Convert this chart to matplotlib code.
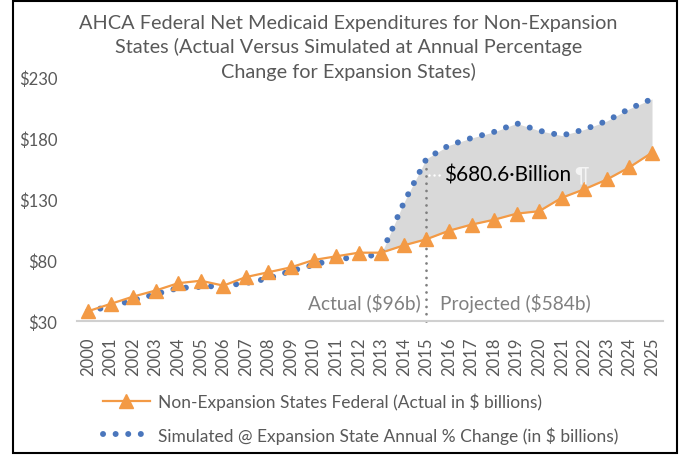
import matplotlib
matplotlib.use("Agg")
import matplotlib.pyplot as plt
from matplotlib.lines import Line2D
from matplotlib.patches import Rectangle
import numpy as np

plt.rcParams['font.family'] = ['Lato', 'DejaVu Sans']

years = list(range(2000, 2026))
actual = [38, 44, 50, 55, 61, 63, 59, 66, 70, 74, 80, 83, 86, 86, 92, 97,
          104, 109, 113, 118, 120, 131, 138, 146, 156, 168]
simulated = [38, 42, 47, 52, 57, 58, 59, 61, 65, 71, 76, 81, 82, 85, 127, 163,
             174, 180, 185, 192, 186, 182, 187, 194, 204, 212]
fill_start = 2013
marker_year = 2015
y_ticks = [30, 80, 130, 180, 230]
y_labels = ['$30', '$80', '$130', '$180', '$230']
title = ("AHCA Federal Net Medicaid Expenditures for Non-Expansion\n"
         "States (Actual Versus Simulated at Annual Percentage\n"
         "Change for Expansion States)")
label_actual = "Non-Expansion States Federal (Actual in $ billions)"
label_sim = "Simulated @ Expansion State Annual % Change (in $ billions)"
total_text = "$680.6\u00b7Billion"
left_text = "Actual ($96b)"
right_text = "Projected ($584b)"

ORANGE = '#F39A45'
BLUE = '#4A76BC'
GRAY_TXT = '#595959'
DOT = (0.01, 2.1)

W, H = 679, 456
fig = plt.figure(figsize=(W / 100, H / 100), dpi=100)
ax = fig.add_axes([76.7 / W, 1 - 322 / H, (663.3 - 76.7) / W, (322 - 78) / H])

x = np.array(years)
a = np.array(actual, dtype=float)
s = np.array(simulated, dtype=float)
m = x >= fill_start
ax.fill_between(x[m], a[m], s[m], color='#d9d9d9', lw=0, zorder=1)

# vertical divider at 2015
i15 = years.index(marker_year)
ax.plot([marker_year, marker_year], [30, s[i15]], color='#7f7f7f', lw=2.0,
        dashes=(0.01, 2.6), dash_capstyle='round', zorder=2, clip_on=False)

ax.plot(x, s, color=BLUE, lw=4.3, dashes=DOT, dash_capstyle='round', zorder=3)
ax.plot(x, a, color=ORANGE, lw=1.6, marker='^', markersize=9.5, zorder=4)

ax.set_xlim(1999.5, 2025.5)
ax.set_ylim(30, 230)
ax.set_yticks(y_ticks)
ax.set_yticklabels(y_labels)
ax.set_xticks(years)
ax.set_xticklabels([str(y) for y in years], rotation=90)
ax.tick_params(axis='both', length=0, colors=GRAY_TXT, labelsize=12)
ax.tick_params(axis='y', pad=14)
ax.tick_params(axis='x', pad=11)
for sp in ['top', 'right', 'left']:
    ax.spines[sp].set_visible(False)
ax.spines['bottom'].set_color('#d0d0d0')
ax.spines['bottom'].set_linewidth(1.5)

# labels
ax.plot([marker_year + 0.1, 2015.8], [150, 150], color='white', lw=1.8,
        dashes=(0.01, 2.0), dash_capstyle='round', zorder=5)
t = ax.text(2015.8, 150, total_text, fontsize=15, color='black', va='center',
            ha='left', zorder=6)
ax.annotate("\u00b6", xy=(1, 0.5), xycoords=t, xytext=(2, 0), textcoords='offset points',
            fontsize=15, color='#f4f4f4', va='center', ha='left', zorder=6)
ax.text(2014.75, 45.5, left_text, fontsize=13.8, color='#808080', va='center', ha='right')
ax.text(2015.6, 45.5, right_text, fontsize=13.8, color='#808080', va='center', ha='left')

fig.text(0.513, 1 - 48 / H, title, ha='center', va='center', fontsize=14.3,
         color=GRAY_TXT, linespacing=1.4)

h1 = Line2D([], [], color=ORANGE, lw=1.6, marker='^', markersize=9.5)
h2 = Line2D([], [], color=BLUE, lw=4.3, dashes=DOT, dash_capstyle='round')
fig.legend([h1, h2], [label_actual, label_sim], loc='upper left',
           bbox_to_anchor=(96 / W, 1 - 387 / H), frameon=False, fontsize=12.5,
           handlelength=2.7, labelspacing=0.9, handletextpad=0.45,
           labelcolor=GRAY_TXT, numpoints=1, borderaxespad=0)

fig.add_artist(Rectangle((13 / W, 2 / H), (677 - 13) / W, (454 - 2) / H,
                         transform=fig.transFigure, fill=False,
                         edgecolor='black', lw=1.5))

fig.savefig('out.png', dpi=100)
